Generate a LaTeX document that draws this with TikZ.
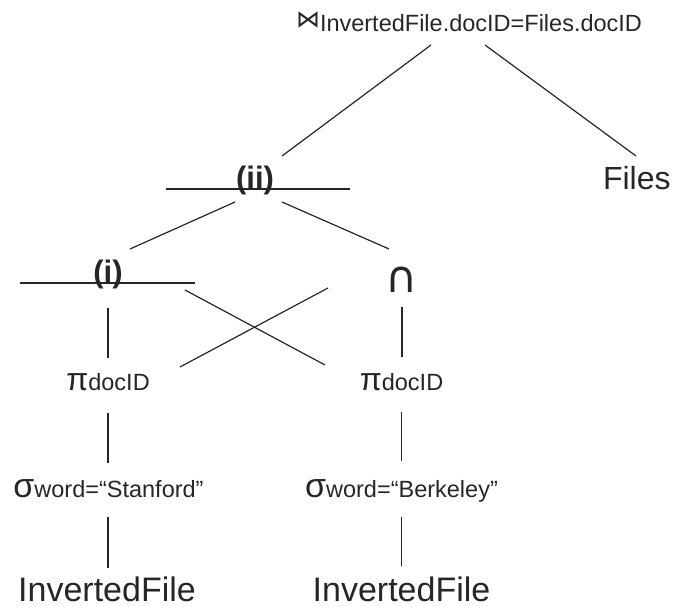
\documentclass[tikz,border=0pt]{standalone}
\usepackage{fontspec}
\setmainfont{Liberation Sans}
\newfontfamily\symfont{DejaVu Sans}
\usetikzlibrary{calc}
\newcommand\bigsz{\fontsize{32}{32}\selectfont}
\newcommand\subsz{\fontsize{23.5}{23.5}\selectfont}
\newcommand\relname{\fontsize{34}{34}\selectfont}
\begin{document}
\begin{tikzpicture}[x=1pt,y=-1pt,
  lbl/.style={inner sep=0pt,outer sep=0pt,text=black!85},
  edge/.style={draw=black!85,line width=1.2pt}]
\useasboundingbox (0,0) rectangle (673,607);
% nodes
\node[lbl,anchor=base west] (top) at (296,32)
  {\raisebox{4pt}{\symfont\fontsize{24}{24}\selectfont ⋈}\subsz InvertedFile.docID=Files.docID};
\node[lbl,anchor=base] (ii) at (255,189) {\fontsize{31}{31}\selectfont\bfseries (ii)};
\node[lbl,anchor=base west] (files) at (603,190) {\fontsize{32}{32}\selectfont Files};
\node[lbl,anchor=base] (i) at (108,283) {\fontsize{31}{31}\selectfont\bfseries (i)};
\node[lbl,anchor=base] (cap) at (402,293) {\symfont\fontsize{44}{44}\selectfont ∩};
\node[lbl,anchor=base] (pil) at (108,390) {\bigsz π\subsz docID};
\node[lbl,anchor=base] (pir) at (401.5,390) {\bigsz π\subsz docID};
\node[lbl,anchor=base] (sl) at (108.5,497) {\fontsize{34}{34}\selectfont σ\subsz word=“Stanford”};
\node[lbl,anchor=base] (sr) at (401.5,497) {\fontsize{34}{34}\selectfont σ\subsz word=“Berkeley”};
\node[lbl,anchor=base] (ifl) at (107,601) {\relname InvertedFile};
\node[lbl,anchor=base] (ifr) at (401.5,601) {\relname InvertedFile};
% underlines of the joins
\draw[edge] ($(ii.base)+(-89,0)$) -- ($(ii.base)+(95,0)$);
\draw[edge] ($(i.base)+(-88,0)$) -- ($(i.base)+(87,0)$);
% connectors
\draw[edge] ($(top.base west)+(135,13)$) -- ($(ii.base)+(27,-33)$);
\draw[edge] ($(top.base west)+(189,13)$) -- ($(files.base west)+(33,-34)$);
\draw[edge] ($(ii.base)+(-20,13)$) -- ($(i.base)+(22,-34)$);
\draw[edge] ($(ii.base)+(27,13)$) -- ($(cap.base)+(-13,-44)$);
\draw[edge] ($(i.base)+(0,25)$) -- ($(pil.base)+(0,-32)$);
\draw[edge] ($(cap.base)+(0,14)$) -- ($(pir.base)+(0.5,-33)$);
\draw[edge] ($(i.base)+(77,7)$) -- ($(pir.base)+(-76.5,-25)$);
\draw[edge] ($(cap.base)+(-74,-5)$) -- ($(pil.base)+(72,-23)$);
\draw[edge] ($(pil.base)+(0,23)$) -- ($(sl.base)+(-0.5,-34)$);
\draw[edge] ($(sl.base)+(-0.5,20)$) -- ($(ifl.base)+(1,-33)$);
\draw[edge] ($(pir.base)+(0,22)$) -- ($(sr.base)+(0,-36)$);
\draw[edge] ($(sr.base)+(0,20)$) -- ($(ifr.base)+(0,-35)$);
\end{tikzpicture}
\end{document}
